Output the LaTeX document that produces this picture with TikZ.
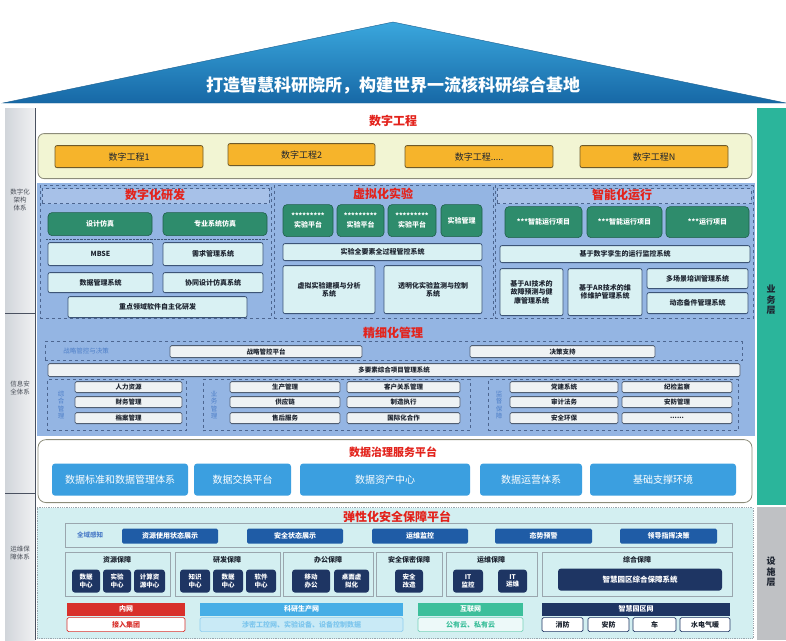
\documentclass[tikz,border=0pt]{standalone}
\usepackage{fontspec}
\setmainfont{Noto Sans CJK SC}
\usepackage{xcolor}
\usetikzlibrary{positioning,shapes.geometric}

\definecolor{roofhi}{HTML}{3AA7DD}
\definecolor{rooflo}{HTML}{1768A6}
\definecolor{roofedge}{HTML}{1D5F8F}
\definecolor{stripgrey}{HTML}{B3B9C2}
\definecolor{stripline}{HTML}{4A5160}
\definecolor{bizgreen}{HTML}{2BB59B}
\definecolor{facgrey}{HTML}{BFC1C4}
\definecolor{gcpanel}{HTML}{F2F5D3}
\definecolor{gcline}{HTML}{8C8C7A}
\definecolor{gcorange}{HTML}{F6B42B}
\definecolor{gcorline}{HTML}{6E5A2A}
\definecolor{midblue}{HTML}{94B5E3}
\definecolor{barblue}{HTML}{A7C1E8}
\definecolor{dashline}{HTML}{4D6690}
\definecolor{simgreen}{HTML}{2E8C6C}
\definecolor{simline}{HTML}{1F5E4A}
\definecolor{syscyan}{HTML}{D9F1F3}
\definecolor{sysline}{HTML}{3D5577}
\definecolor{mgfill}{HTML}{EEF2F4}
\definecolor{mgline}{HTML}{505E72}
\definecolor{datablue}{HTML}{3B9FE0}
\definecolor{safecyan}{HTML}{D3EFF1}
\definecolor{grpline}{HTML}{9AA6AE}
\definecolor{showblue}{HTML}{1F5CA6}
\definecolor{navy}{HTML}{1E3563}
\definecolor{netred}{HTML}{D8302B}
\definecolor{netblue}{HTML}{46AEE6}
\definecolor{netsky}{HTML}{C9EAF6}
\definecolor{netgreen}{HTML}{3CBF9B}
\definecolor{titlered}{HTML}{E3231C}
\definecolor{labelblue}{HTML}{4F80C9}
\definecolor{textdark}{HTML}{1D2430}
\definecolor{sidetext}{HTML}{4A4F58}

\tikzset{
  cell/.style n args={4}{at={({(#1+#3)/2},{(#2+#4)/2+0.6})},
    minimum width={(#3-#1)*1pt}, minimum height={(#4-#2)*1pt}},
  box/.style={rounded corners=2pt, inner sep=0pt, align=center, text=textdark,
    font=\fontsize{7}{8.5}\selectfont\bfseries},
  gcbox/.style={box, draw=gcorline, fill=gcorange, line width=0.8pt,
    font=\fontsize{9}{11}\selectfont},
  simbox/.style={box, draw=simline, fill=simgreen, text=white, rounded corners=4pt, line width=0.6pt},
  sysbox/.style={box, draw=sysline, fill=syscyan, line width=0.8pt},
  mgbox/.style={box, draw=mgline, fill=mgfill, line width=0.8pt, rounded corners=1.5pt,
    font=\fontsize{6.5}{7.5}\selectfont\bfseries},
  databox/.style={box, fill=datablue, text=white, rounded corners=3pt,
    font=\fontsize{10}{12}\selectfont},
  showbox/.style={box, fill=showblue, text=white, rounded corners=1.5pt},
  navybox/.style={box, fill=navy, text=white, rounded corners=3pt,
    font=\fontsize{6.5}{7.5}\selectfont\bfseries},
  grpbox/.style={draw=grpline, fill=safecyan, inner sep=0pt, line width=0.6pt},
  grptitle/.style={text=textdark, font=\fontsize{7}{8}\selectfont\bfseries},
  dpanel/.style={draw=dashline, dashed, inner sep=0pt},
  tbar/.style={dpanel, fill=barblue},
  title/.style={text=titlered, font=\fontsize{12}{14}\selectfont\bfseries},
  side/.style={text=sidetext, align=center, font=\fontsize{6.5}{8}\selectfont},
  layer/.style={text=textdark, align=center, font=\fontsize{9}{10.5}\selectfont\bfseries},
  vlabel/.style={text=labelblue, align=center, font=\fontsize{6.5}{7.5}\selectfont},
  nethead/.style={box, text=white, rounded corners=0pt},
  netsub/.style={box, fill=white, rounded corners=1.5pt, line width=0.7pt}
}

\begin{document}
\begin{tikzpicture}[x=1pt, y=-1pt]
\useasboundingbox (0,0) rectangle (786,640);

% roof
\shade[top color=roofhi, bottom color=rooflo, draw=roofedge] (3,103) -- (393,22) -- (786,103) -- cycle;
\node[text=white, font=\fontsize{17}{19}\selectfont\bfseries] (goal) at (393,85)
  {打造智慧科研院所，构建世界一流核科研综合基地};

% side strips
\shade[left color=stripgrey!60, right color=stripgrey!20] (5,108) rectangle (35,640);
\draw[stripline, line width=0.8pt] (35,108) -- (35,640);
\draw[stripline, line width=0.8pt] (5,313) -- (35,313);
\draw[stripline, line width=0.8pt] (5,493) -- (35,493);
\node[side] (szhjg) at (20,200) {数字化\\架构\\体系};
\node[side] (xxaq) at (20,388) {信息安\\全体系};
\node[side] (ywbztx) at (20,553) {运维保\\障体系};

\fill[bizgreen] (757,108) rectangle (786,505);
\fill[facgrey] (757,507) rectangle (786,640);
\node[layer] (ywc) at (771,300) {业\\务\\层};
\node[layer] (ssc) at (771,572) {设\\施\\层};

% 数字工程
\node[title] (szgc) at (393,121) {数字工程};
\node[draw=gcline, fill=gcpanel, rounded corners=6pt, line width=0.8pt, inner sep=0pt,
  cell={38}{133}{752}{178}] (gcrow) {};
\node[gcbox, cell={55}{145}{203}{167}] (gc1) {数字工程1};
\node[gcbox, cell={228}{143}{375}{165}] (gc2) {数字工程2};
\node[gcbox, cell={405}{145}{553}{167}] (gc3) {数字工程.....};
\node[gcbox, cell={580}{145}{728}{167}] (gcn) {数字工程N};

% business area
\fill[midblue] (37,183) rectangle (755,436);

% 数字化研发
\node[dpanel, cell={40}{185}{271}{318}] (yfpanel) {};
\node[tbar, cell={42}{188}{269}{203}] (yfbar) {};
\node[title] (yftitle) at (155,195) {数字化研发};
\node[simbox, cell={48}{212}{152}{235}] (sjfz) {设计仿真};
\node[simbox, cell={163}{212}{267}{235}] (zyfz) {专业系统仿真};
\draw[sysline, densely dotted] (46,239) -- (268,239);
\node[sysbox, cell={48}{242}{153}{265}] (mbse) {MBSE};
\node[sysbox, cell={163}{242}{263}{265}] (xqgl) {需求管理系统};
\node[sysbox, cell={48}{272}{153}{292}] (sjgl) {数据管理系统};
\node[sysbox, cell={163}{272}{263}{292}] (xtsj) {协同设计仿真系统};
\node[sysbox, cell={68}{296}{247}{317}] (zdly) {重点领域软件自主化研发};

% 虚拟化实验
\node[dpanel, cell={274}{185}{493}{318}] (sypanel) {};
\node[title] (sytitle) at (383,194) {虚拟化实验};
\node[simbox, cell={283}{204}{333}{236}] (sy1) {*********\\实验平台};
\node[simbox, cell={337}{204}{384}{236}] (sy2) {*********\\实验平台};
\node[simbox, cell={388}{204}{436}{236}] (sy3) {*********\\实验平台};
\node[simbox, cell={441}{204}{482}{236}] (sygl) {实验管理};
\node[sysbox, cell={283}{243}{482}{260}] (qgc) {实验全要素全过程管控系统};
\node[sysbox, cell={283}{265}{375}{313}] (jmfx) {虚拟实验建模与分析\\系统};
\node[sysbox, cell={384}{265}{482}{313}] (jckz) {透明化实验监测与控制\\系统};

% 智能化运行
\node[dpanel, cell={495}{185}{753}{318}] (yxpanel) {};
\node[tbar, cell={497}{188}{751}{203}] (yxbar) {};
\node[title] (yxtitle) at (622,195) {智能化运行};
\node[simbox, cell={505}{206}{582}{237}] (zn1) {***智能运行项目};
\node[simbox, cell={587}{206}{662}{237}] (zn2) {***智能运行项目};
\node[simbox, cell={666}{206}{749}{237}] (yx3) {***运行项目};
\node[sysbox, cell={500}{245}{750}{262}] (szls) {基于数字孪生的运行监控系统};
\node[sysbox, cell={500}{268}{563}{315}] (aiph) {基于AI技术的\\故障预测与健\\康管理系统};
\node[sysbox, cell={568}{268}{642}{315}] (arwx) {基于AR技术的维\\修维护管理系统};
\node[sysbox, cell={647}{268}{748}{288}] (dcj) {多场景培训管理系统};
\node[sysbox, cell={647}{292}{748}{313}] (dtbj) {动态备件管理系统};

% 精细化管理
\node[title] (jxtitle) at (393,333) {精细化管理};
\node[dpanel, cell={45}{341}{742}{360}] (zlgroup) {};
\node[vlabel] (zllabel) at (86,351) {战略管控与决策};
\node[mgbox, cell={170}{345}{362}{357}] (zlpt) {战略管控平台};
\node[mgbox, cell={470}{345}{655}{357}] (jczc) {决策支持};
\node[mgbox, cell={48}{363}{740}{376}] (dys) {多要素综合项目管理系统};

\node[dpanel, cell={47}{379}{186}{430}] (g1) {};
\node[vlabel] (g1label) at (61,405) {综\\合\\管\\理};
\node[mgbox, cell={75}{381}{182}{392}] (rlzy) {人力资源};
\node[mgbox, cell={75}{396}{182}{407}] (cwgl) {财务管理};
\node[mgbox, cell={75}{412}{182}{423}] (dagl) {档案管理};

\node[dpanel, cell={203}{379}{470}{430}] (g2) {};
\node[vlabel] (g2label) at (214,405) {业\\务\\管\\理};
\node[mgbox, cell={230}{381}{340}{392}] (scgl) {生产管理};
\node[mgbox, cell={347}{381}{460}{392}] (khgl) {客户关系管理};
\node[mgbox, cell={230}{396}{340}{407}] (gyl) {供应链};
\node[mgbox, cell={347}{396}{460}{407}] (zzzx) {制造执行};
\node[mgbox, cell={230}{412}{340}{423}] (shfw) {售后服务};
\node[mgbox, cell={347}{412}{460}{423}] (gjhz) {国际化合作};

\node[dpanel, cell={488}{379}{738}{430}] (g3) {};
\node[vlabel] (g3label) at (499,405) {监\\督\\保\\障};
\node[mgbox, cell={510}{381}{618}{392}] (djxt) {党建系统};
\node[mgbox, cell={622}{381}{732}{392}] (jjjc) {纪检监察};
\node[mgbox, cell={510}{396}{618}{407}] (sjfw) {审计法务};
\node[mgbox, cell={622}{396}{732}{407}] (afgl) {安防管理};
\node[mgbox, cell={510}{412}{618}{423}] (aqhb) {安全环保};
\node[mgbox, cell={622}{412}{732}{423}] (more) {......};

% 数据治理服务平台
\node[draw=gcline, fill=white, rounded corners=8pt, line width=0.8pt, inner sep=0pt,
  cell={38}{439}{752}{502}] (sjzl) {};
\node[title, font=\fontsize{11}{13}\selectfont\bfseries] (sjtitle) at (393,452) {数据治理服务平台};
\node[databox, cell={52}{463}{188}{495}] (sjbz) {数据标准和数据管理体系};
\node[databox, cell={194}{463}{291}{495}] (sjjh) {数据交换平台};
\node[databox, cell={300}{463}{470}{495}] (sjzc) {数据资产中心};
\node[databox, cell={480}{463}{582}{495}] (sjyy) {数据运营体系};
\node[databox, cell={590}{463}{736}{495}] (jczc2) {基础支撑环境};

% 弹性化安全保障平台
\node[draw=grpline, densely dotted, fill=safecyan, inner sep=0pt, line width=0.8pt,
  cell={37}{507}{753}{638}] (aqpanel) {};
\node[title] (aqtitle) at (397,517) {弹性化安全保障平台};
\node[grpbox, cell={65}{523}{732}{547}] (qyrow) {};
\node[vlabel, font=\fontsize{6.5}{8}\selectfont\bfseries] (qygz) at (90,535) {全域感知};
\node[showbox, cell={122}{528}{218}{543}] (zyzt) {资源使用状态展示};
\node[showbox, cell={247}{528}{343}{543}] (aqzt) {安全状态展示};
\node[showbox, cell={372}{528}{468}{543}] (ywjk) {运维监控};
\node[showbox, cell={495}{528}{592}{543}] (tsyj) {态势预警};
\node[showbox, cell={620}{528}{717}{543}] (ldzh) {领导指挥决策};

\node[grpbox, cell={65}{552}{170}{596}] (zybz) {};
\node[grptitle] (zybzt) at (117,560) {资源保障};
\node[navybox, cell={72}{569}{100}{592}] (sjzx1) {数据\\中心};
\node[navybox, cell={103}{569}{131}{592}] (syzx) {实验\\中心};
\node[navybox, cell={134}{569}{165}{592}] (jszx) {计算资\\源中心};

\node[grpbox, cell={175}{552}{280}{596}] (yfbz) {};
\node[grptitle] (yfbzt) at (227,560) {研发保障};
\node[navybox, cell={180}{569}{210}{592}] (zszx) {知识\\中心};
\node[navybox, cell={213}{569}{243}{592}] (sjzx2) {数据\\中心};
\node[navybox, cell={246}{569}{276}{592}] (rjzx) {软件\\中心};

\node[grpbox, cell={283}{552}{373}{596}] (bgbz) {};
\node[grptitle] (bgbzt) at (328,560) {办公保障};
\node[navybox, cell={292}{569}{330}{592}] (ydbg) {移动\\办公};
\node[navybox, cell={334}{569}{369}{592}] (zmxn) {桌面虚\\拟化};

\node[grpbox, cell={376}{552}{442}{596}] (aqbm) {};
\node[grptitle] (aqbmt) at (409,560) {安全保密保障};
\node[navybox, cell={395}{569}{423}{592}] (aqgz) {安全\\改造};

\node[grpbox, cell={446}{552}{537}{596}] (ywbz) {};
\node[grptitle] (ywbzt) at (491,560) {运维保障};
\node[navybox, cell={453}{569}{483}{592}] (itjk) {IT\\监控};
\node[navybox, cell={498}{569}{527}{592}] (ityw) {IT\\运维};

\node[grpbox, cell={542}{552}{732}{596}] (zhbz) {};
\node[grptitle] (zhbzt) at (637,560) {综合保障};
\node[navybox, cell={558}{568}{722}{590}, font=\fontsize{7.5}{9}\selectfont\bfseries] (zhxt) {智慧园区综合保障系统};

% networks
\node[nethead, fill=netred, cell={67}{602}{185}{615}] (nw) {内网};
\node[netsub, draw=netred, text=netred, cell={67}{617}{185}{631}] (jrjt) {接入集团};
\node[nethead, fill=netblue, cell={200}{602}{403}{615}] (kysc) {科研生产网};
\node[netsub, draw=netblue!60, fill=netsky, text=netblue!70, cell={200}{617}{403}{631}] (kysub)
  {涉密工控网、实验设备、设备控制数据};
\node[nethead, fill=netgreen, cell={418}{602}{523}{615}] (hlw) {互联网};
\node[netsub, draw=netgreen!70, fill=safecyan!40, text=netgreen, cell={418}{617}{523}{631}] (hlwsub)
  {公有云、私有云};
\node[nethead, fill=navy, cell={542}{602}{730}{615}] (zhyq) {智慧园区网};
\node[netsub, draw=navy, cell={542}{617}{583}{631}] (xf) {消防};
\node[netsub, draw=navy, cell={588}{617}{629}{631}] (af) {安防};
\node[netsub, draw=navy, cell={633}{617}{676}{631}] (che) {车};
\node[netsub, draw=navy, cell={680}{617}{730}{631}] (sdqn) {水电气暖};
\end{tikzpicture}
\end{document}
